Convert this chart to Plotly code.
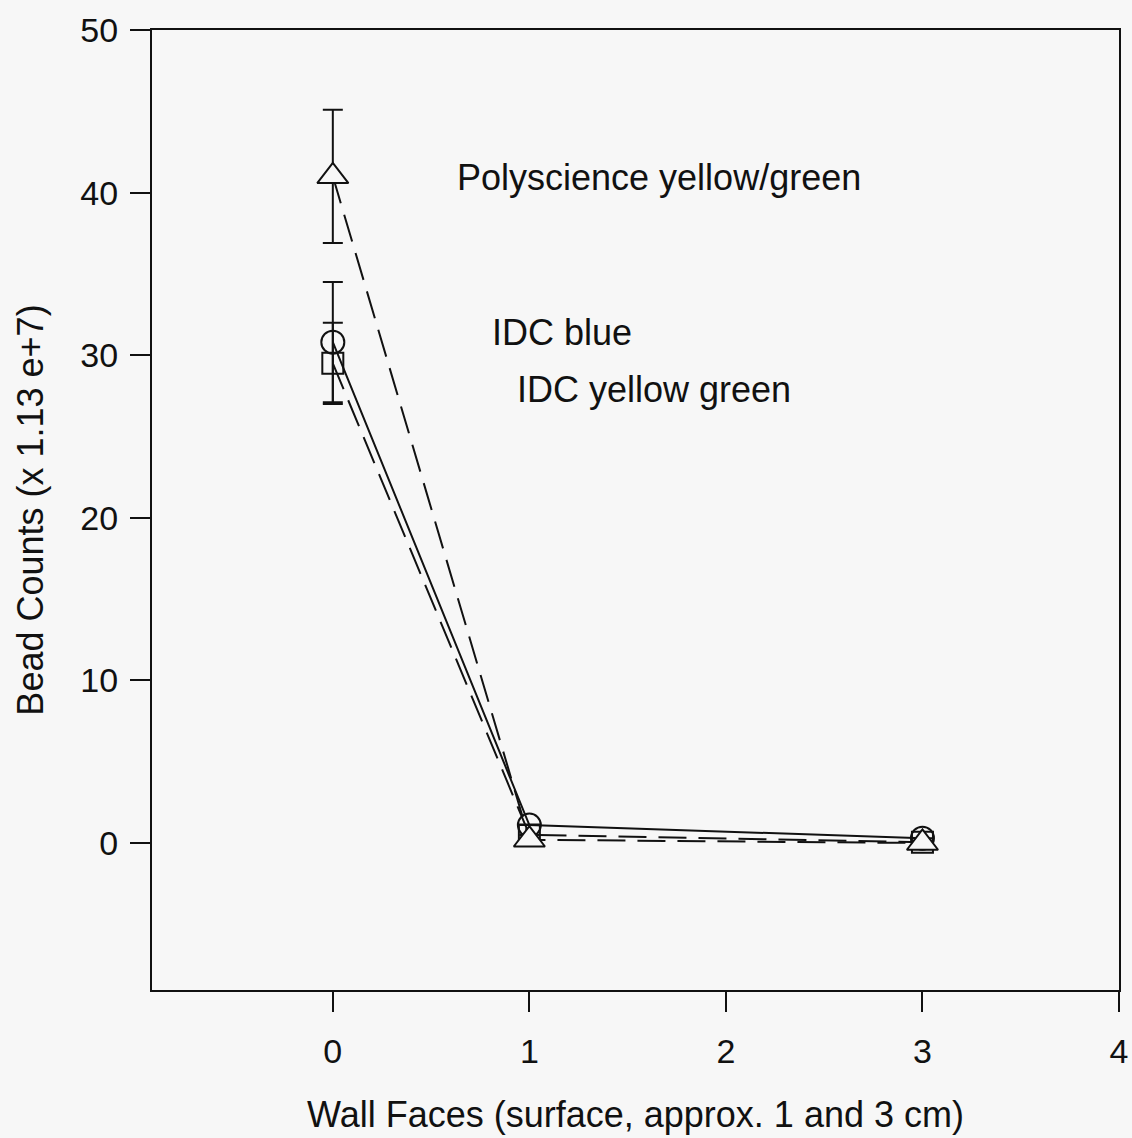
import plotly.graph_objects as go

# Data
x_vals = [0, 1, 3]
series_names = ["IDC blue", "IDC yellow green", "Polyscience yellow/green"]
idc_blue = [30.8, 1.1, 0.3]
idc_blue_err_plus = [3.7, 0, 0]
idc_blue_err_minus = [3.7, 0, 0]
idc_yg = [29.5, 0.5, 0.05]
idc_yg_err_plus = [2.5, 0, 0]
idc_yg_err_minus = [2.5, 0, 0]
poly_yg = [41.0, 0.2, 0.0]
poly_yg_err_plus = [4.1, 0, 0]
poly_yg_err_minus = [4.1, 0, 0]

x_ticks = [0, 1, 2, 3, 4]
y_ticks = [0, 10, 20, 30, 40, 50]

INK = "#111111"
BG = "#f7f7f7"
FONT = "Liberation Sans, Arial, sans-serif"
DASH = "28px,12px"

fig = go.Figure()

def add_series(name, y, ep, em, symbol, size, dash, fill):
    fig.add_trace(go.Scatter(
        x=x_vals, y=y, name=name, mode="lines+markers",
        line=dict(color=INK, width=2, dash=dash),
        marker=dict(symbol=symbol, size=size, color=fill,
                    line=dict(color=INK, width=2)),
        error_y=dict(type="data", symmetric=False, array=ep, arrayminus=em,
                     color=INK, thickness=2, width=10, visible=True),
        showlegend=False,
    ))

add_series(series_names[0], idc_blue, idc_blue_err_plus, idc_blue_err_minus,
           "circle-open", 23, "solid", INK)
add_series(series_names[1], idc_yg, idc_yg_err_plus, idc_yg_err_minus,
           "square-open", 21, DASH, INK)
add_series(series_names[2], poly_yg, poly_yg_err_plus, poly_yg_err_minus,
           "triangle-up", 27, DASH, BG)

# Labels
labels = [
    (series_names[2], 0.62, 40.9),
    (series_names[0], 0.80, 31.4),
    (series_names[1], 0.925, 27.9),
]
for txt, lx, ly in labels:
    fig.add_annotation(x=lx, y=ly, text=txt, showarrow=False,
                       xanchor="left", yanchor="middle",
                       font=dict(family=FONT, size=36, color=INK))

fig.update_layout(
    width=1132, height=1138,
    margin=dict(l=152, r=13, t=30, b=148),
    paper_bgcolor=BG, plot_bgcolor=BG,
    font=dict(family=FONT, color=INK),
    showlegend=False,
)
fig.update_xaxes(
    range=[-0.92, 4.0], tickvals=x_ticks, ticktext=[str(v) for v in x_ticks],
    showgrid=False, zeroline=False, showline=True, linecolor=INK, linewidth=2,
    mirror=True, ticks="outside", ticklen=20, tickwidth=2, tickcolor=INK,
    tickfont=dict(family=FONT, size=34, color=INK), ticklabelstandoff=10,
    title=dict(text="Wall Faces (surface, approx. 1 and 3 cm)",
               font=dict(family=FONT, size=36, color=INK), standoff=33),
    automargin=False,
)
fig.update_yaxes(
    range=[-9.04, 50.0], tickvals=y_ticks, ticktext=[str(v) for v in y_ticks],
    showgrid=False, zeroline=False, showline=True, linecolor=INK, linewidth=2,
    mirror=True, ticks="outside", ticklen=20, tickwidth=2, tickcolor=INK,
    tickfont=dict(family=FONT, size=34, color=INK), ticklabelstandoff=5,
    title=dict(text="Bead Counts (x 1.13 e+7)",
               font=dict(family=FONT, size=36, color=INK), standoff=26),
    automargin=False,
)

fig.write_html(
    "out.html",
    config={"displayModeBar": False},
    post_script="document.body.style.margin='0';document.body.style.overflow='hidden';document.body.style.background='#f7f7f7';",
)
